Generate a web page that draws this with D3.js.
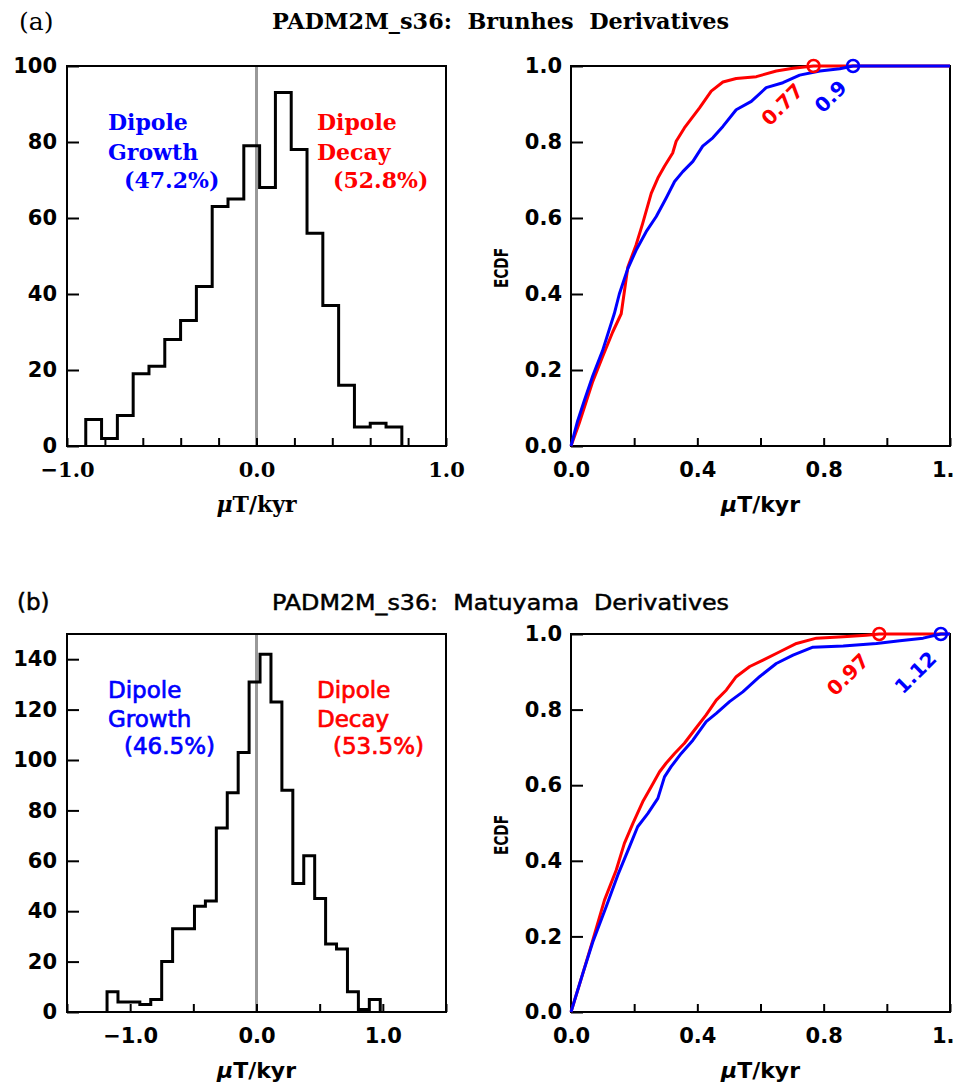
<!DOCTYPE html>
<html>
<head>
<meta charset="utf-8">
<script src="https://cdn.jsdelivr.net/npm/d3@7"></script>
<style>
  body { margin: 0; background: #fff; }
  svg { display: block; }
</style>
</head>
<body>
<svg id="chart"></svg>
<script>
// ---- histogram counts (equal-width bins) ----
const BRUNHES_BIN_START = -0.901;
const BRUNHES_BIN_WIDTH = 0.0834;
const BRUNHES_COUNTS = [7, 2, 8, 19, 21, 28, 33, 42, 63, 65, 79, 68, 93, 78, 56, 37, 16, 5, 6, 5];

const MATUYAMA_BIN_START = -1.183;
const MATUYAMA_BIN_WIDTH = 0.0865;
const MATUYAMA_COUNTS = [8, 4, 4, 3, 5, 20, 33, 33, 42, 44, 73, 87, 103, 131, 142, 123, 88, 51, 62, 45, 27, 25, 8, 1, 5];

// ---- ECDF curves of |dDM/dt| (red = decay, blue = growth) ----
const BRUNHES_DECAY_X = [0, 0.026, 0.069, 0.1, 0.132, 0.159, 0.18, 0.206, 0.227, 0.254, 0.275, 0.296, 0.322, 0.333, 0.359, 0.407, 0.444, 0.481, 0.523, 0.587, 0.65, 0.703, 0.768, 1.2];
const BRUNHES_DECAY_Y = [0, 0.06, 0.17, 0.235, 0.3, 0.348, 0.471, 0.529, 0.586, 0.665, 0.705, 0.736, 0.771, 0.802, 0.837, 0.89, 0.934, 0.958, 0.967, 0.972, 0.987, 0.994, 1.0, 1.0];
const BRUNHES_GROWTH_X = [0, 0.021, 0.042, 0.069, 0.1, 0.137, 0.153, 0.18, 0.206, 0.238, 0.27, 0.301, 0.328, 0.354, 0.386, 0.417, 0.449, 0.481, 0.523, 0.571, 0.618, 0.671, 0.724, 0.788, 0.851, 0.893, 1.2];
const BRUNHES_GROWTH_Y = [0, 0.066, 0.119, 0.185, 0.251, 0.348, 0.4, 0.467, 0.515, 0.564, 0.604, 0.652, 0.696, 0.722, 0.749, 0.789, 0.811, 0.841, 0.885, 0.907, 0.943, 0.956, 0.976, 0.987, 0.993, 1.0, 1.0];

const MATUYAMA_DECAY_X = [0, 0.037, 0.069, 0.106, 0.143, 0.169, 0.196, 0.227, 0.254, 0.28, 0.301, 0.328, 0.359, 0.391, 0.428, 0.46, 0.492, 0.523, 0.566, 0.608, 0.661, 0.714, 0.777, 0.862, 0.935, 0.976, 1.2];
const MATUYAMA_DECAY_Y = [0, 0.101, 0.19, 0.296, 0.375, 0.446, 0.499, 0.556, 0.596, 0.635, 0.658, 0.684, 0.711, 0.746, 0.786, 0.825, 0.852, 0.887, 0.914, 0.931, 0.953, 0.975, 0.989, 0.993, 0.997, 1.0, 1.0];
const MATUYAMA_GROWTH_X = [0, 0.037, 0.069, 0.111, 0.148, 0.185, 0.211, 0.243, 0.275, 0.296, 0.317, 0.349, 0.386, 0.428, 0.46, 0.502, 0.544, 0.597, 0.65, 0.703, 0.766, 0.862, 0.967, 1.041, 1.115, 1.171, 1.2];
const MATUYAMA_GROWTH_Y = [0, 0.101, 0.185, 0.278, 0.362, 0.437, 0.49, 0.525, 0.565, 0.622, 0.649, 0.684, 0.719, 0.768, 0.79, 0.821, 0.847, 0.887, 0.922, 0.944, 0.965, 0.968, 0.975, 0.982, 0.989, 1.0, 1.0];

// end of each ECDF (marked with a circle) and its label
const BRUNHES_MAX = [0.768, 0.893];
const BRUNHES_MAX_LABELS = ["0.77", "0.9"];
const MATUYAMA_MAX = [0.976, 1.171];
const MATUYAMA_MAX_LABELS = ["0.97", "1.12"];

const BRUNHES_SHARES = ["(47.2%)", "(52.8%)"];
const MATUYAMA_SHARES = ["(46.5%)", "(53.5%)"];

// ---- axis ticks ----
const BRUNHES_X_TICKS = [-1, -0.8, -0.6, -0.4, -0.2, 0, 0.2, 0.4, 0.6, 0.8, 1];
const MATUYAMA_X_TICKS = [-1.5, -1, -0.5, 0, 0.5, 1, 1.5];
const HIST_X_LABELS = [-1, 0, 1];
const BRUNHES_Y_TICKS = [0, 20, 40, 60, 80, 100];
const MATUYAMA_Y_TICKS = [0, 20, 40, 60, 80, 100, 120, 140];
const ECDF_X_TICKS = [0, 0.2, 0.4, 0.6, 0.8, 1.0, 1.2];
const ECDF_X_LABELS = [0, 0.4, 0.8, 1.2];
const ECDF_Y_TICKS = [0, 0.2, 0.4, 0.6, 0.8, 1.0];

const W = 954, H = 1087;
const SERIF = "'DejaVu Serif', serif";
const SANS = "'DejaVu Sans', sans-serif";
const RED = "#ff0000", BLUE = "#0000ff";

const LEFT = [67, 446], RIGHT = [571, 950];
const ROW_A = [446, 66], ROW_B = [1012, 634];

var svg = d3.select("#chart").attr("width", W).attr("height", H);

function has(list, v) { return list.some(function(l) { return Math.abs(l - v) < 1e-9; }); }

function styleAxis(g, font, size, weight) {
  g.select(".domain").remove();
  g.selectAll("line").attr("stroke", "#000").attr("stroke-width", 2);
  g.selectAll("text")
    .attr("fill", "#000")
    .attr("font-family", font)
    .attr("font-size", size)
    .attr("font-weight", weight);
}

function frame(xr, yr) {
  svg.append("rect")
    .attr("x", xr[0]).attr("y", yr[1])
    .attr("width", xr[1] - xr[0]).attr("height", yr[0] - yr[1])
    .attr("fill", "none").attr("stroke", "#000").attr("stroke-width", 2);
}

function drawHist(cfg) {
  var x = d3.scaleLinear().domain(cfg.xDomain).range(LEFT);
  var y = d3.scaleLinear().domain(cfg.yDomain).range(cfg.row);

  // zero line
  svg.append("line")
    .attr("x1", x(0)).attr("x2", x(0))
    .attr("y1", cfg.row[0]).attr("y2", cfg.row[1])
    .attr("stroke", "#999").attr("stroke-width", 3);

  // step outline of the histogram
  var pts = [[cfg.start, 0]];
  cfg.counts.forEach(function(c, i) {
    var a = cfg.start + i * cfg.width;
    pts.push([a, c], [a + cfg.width, c]);
  });
  pts.push([cfg.start + cfg.counts.length * cfg.width, 0]);
  svg.append("path")
    .attr("d", d3.line().x(function(d) { return x(d[0]); }).y(function(d) { return y(d[1]); })(pts))
    .attr("fill", "none").attr("stroke", "#000")
    .attr("stroke-width", 3).attr("stroke-linejoin", "miter");

  frame(LEFT, cfg.row);

  svg.append("g")
    .attr("transform", "translate(0," + cfg.row[0] + ")")
    .call(d3.axisBottom(x).tickValues(cfg.xTicks).tickSize(-8).tickPadding(16)
      .tickFormat(function(d) { return has(HIST_X_LABELS, d) ? d3.format(".1f")(d) : ""; }))
    .call(styleAxis, cfg.xFont, cfg.xFontSize, "bold");

  svg.append("g")
    .attr("transform", "translate(" + LEFT[0] + ",0)")
    .call(d3.axisLeft(y).tickValues(cfg.yTicks).tickSize(-12).tickPadding(10).tickFormat(d3.format("d")))
    .call(styleAxis, SANS, 21, "bold");

  svg.append("text")
    .attr("x", x(0)).attr("y", cfg.row[0] + 66)
    .attr("text-anchor", "middle")
    .attr("font-family", cfg.xFont).attr("font-size", 22).attr("font-weight", "bold")
    .call(function(t) {
      t.append("tspan").attr("font-style", "italic").text("\u03bc");
      t.append("tspan").text("T/kyr");
    });

  // annotations
  var top = cfg.row[1];
  var ann = [
    { color: BLUE, x: 108, lines: ["Dipole", "Growth"], share: cfg.shares[0] },
    { color: RED, x: 317, lines: ["Dipole", "Decay"], share: cfg.shares[1] }
  ];
  ann.forEach(function(a) {
    var t = svg.append("g")
      .attr("fill", a.color)
      .attr("font-family", cfg.annFont).attr("font-size", cfg.annSize)
      .attr("font-weight", cfg.annWeight)
      .attr("stroke", a.color).attr("stroke-width", cfg.annStroke);
    a.lines.forEach(function(s, i) {
      t.append("text").attr("x", a.x).attr("y", top + cfg.annBase + i * cfg.annStep).text(s);
    });
    t.append("text").attr("x", a.x + 16).attr("y", top + cfg.annBase + 2 * cfg.annStep - 2).text(a.share);
  });
}

function drawEcdf(cfg) {
  var x = d3.scaleLinear().domain([0, 1.2]).range(RIGHT);
  var y = d3.scaleLinear().domain([0, 1]).range(cfg.row);

  frame(RIGHT, cfg.row);

  svg.append("g")
    .attr("transform", "translate(0," + cfg.row[0] + ")")
    .call(d3.axisBottom(x).tickValues(ECDF_X_TICKS).tickSize(-8).tickPadding(16)
      .tickFormat(function(d) { return has(ECDF_X_LABELS, d) ? d3.format(".1f")(d) : ""; }))
    .call(styleAxis, SANS, 21, "bold");

  svg.append("g")
    .attr("transform", "translate(" + RIGHT[0] + ",0)")
    .call(d3.axisLeft(y).tickValues(ECDF_Y_TICKS).tickSize(-12).tickPadding(9).tickFormat(d3.format(".1f")))
    .call(styleAxis, SANS, 21, "bold");

  var line = d3.line().x(function(d) { return x(d[0]); }).y(function(d) { return y(d[1]); });
  var series = [
    { xs: cfg.decayX, ys: cfg.decayY, color: RED, max: cfg.max[0], label: cfg.labels[0], dx: cfg.offsets[0][0], dy: cfg.offsets[0][1] },
    { xs: cfg.growthX, ys: cfg.growthY, color: BLUE, max: cfg.max[1], label: cfg.labels[1], dx: cfg.offsets[1][0], dy: cfg.offsets[1][1] }
  ];
  series.forEach(function(s) {
    svg.append("path")
      .attr("d", line(d3.zip(s.xs, s.ys)))
      .attr("fill", "none").attr("stroke", s.color)
      .attr("stroke-width", 3).attr("stroke-linejoin", "round");
  });
  series.forEach(function(s) {
    var cx = x(s.max), cy = y(1);
    svg.append("circle")
      .attr("cx", cx).attr("cy", cy).attr("r", 6)
      .attr("fill", "none").attr("stroke", s.color).attr("stroke-width", 2.5);
    var lx = cx + s.dx, ly = cy + s.dy;
    svg.append("text")
      .attr("x", lx).attr("y", ly)
      .attr("transform", "rotate(-45," + lx + "," + ly + ")")
      .attr("text-anchor", "end")
      .attr("fill", s.color)
      .attr("font-family", SANS).attr("font-size", 20).attr("font-weight", "bold")
      .text(s.label);
  });

  var cy = (cfg.row[0] + cfg.row[1]) / 2 + 12;
  svg.append("text")
    .attr("transform", "translate(508," + cy + ") rotate(-90)")
    .attr("text-anchor", "middle")
    .attr("font-family", SANS).attr("font-size", 19).attr("font-weight", "bold")
    .attr("textLength", 40).attr("lengthAdjust", "spacingAndGlyphs")
    .text("ECDF");

  svg.append("text")
    .attr("x", x(0.6)).attr("y", cfg.row[0] + 66)
    .attr("text-anchor", "middle")
    .attr("font-family", SANS).attr("font-size", 22).attr("font-weight", "bold")
    .call(function(t) {
      t.append("tspan").attr("font-style", "italic").text("\u03bc");
      t.append("tspan").text("T/kyr");
    });
}

// ---- panel (a): Brunhes ----
svg.append("text").attr("x", 19).attr("y", 30)
  .attr("font-family", SERIF).attr("font-size", 25).text("(a)");
svg.append("text").attr("x", 272).attr("y", 29)
  .attr("font-family", SERIF).attr("font-size", 22).attr("font-weight", "bold")
  .attr("textLength", 457).attr("lengthAdjust", "spacingAndGlyphs")
  .attr("xml:space", "preserve")
  .text("PADM2M_s36:  Brunhes  Derivatives");

drawHist({
  xDomain: [-1, 1], yDomain: [0, 100], row: ROW_A,
  start: BRUNHES_BIN_START, width: BRUNHES_BIN_WIDTH, counts: BRUNHES_COUNTS,
  xTicks: BRUNHES_X_TICKS, yTicks: BRUNHES_Y_TICKS,
  xFont: SERIF, xFontSize: 21,
  annFont: SERIF, annSize: 22, annWeight: "bold", annStroke: 0,
  annBase: 64, annStep: 30, shares: BRUNHES_SHARES
});

drawEcdf({
  row: ROW_A,
  decayX: BRUNHES_DECAY_X, decayY: BRUNHES_DECAY_Y,
  growthX: BRUNHES_GROWTH_X, growthY: BRUNHES_GROWTH_Y,
  max: BRUNHES_MAX, labels: BRUNHES_MAX_LABELS,
  offsets: [[-9, 26], [-5, 23]]
});

// ---- panel (b): Matuyama ----
svg.append("text").attr("x", 17).attr("y", 610)
  .attr("font-family", SANS).attr("font-size", 23)
  .attr("stroke", "#000").attr("stroke-width", 0.5).text("(b)");
svg.append("text").attr("x", 272).attr("y", 610)
  .attr("font-family", SANS).attr("font-size", 21)
  .attr("stroke", "#000").attr("stroke-width", 0.5)
  .attr("textLength", 457).attr("lengthAdjust", "spacingAndGlyphs")
  .attr("xml:space", "preserve")
  .text("PADM2M_s36:  Matuyama  Derivatives");

drawHist({
  xDomain: [-1.5, 1.5], yDomain: [0, 150], row: ROW_B,
  start: MATUYAMA_BIN_START, width: MATUYAMA_BIN_WIDTH, counts: MATUYAMA_COUNTS,
  xTicks: MATUYAMA_X_TICKS, yTicks: MATUYAMA_Y_TICKS,
  xFont: SANS, xFontSize: 21,
  annFont: SANS, annSize: 23, annWeight: "normal", annStroke: 0.7,
  annBase: 64, annStep: 29, shares: MATUYAMA_SHARES
});

drawEcdf({
  row: ROW_B,
  decayX: MATUYAMA_DECAY_X, decayY: MATUYAMA_DECAY_Y,
  growthX: MATUYAMA_GROWTH_X, growthY: MATUYAMA_GROWTH_Y,
  max: MATUYAMA_MAX, labels: MATUYAMA_MAX_LABELS,
  offsets: [[-9, 28], [-3, 26]]
});
</script>
</body>
</html>
